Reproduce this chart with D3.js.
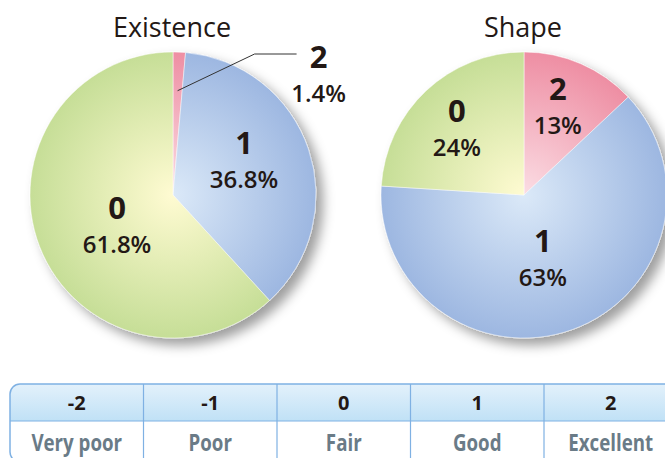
<!DOCTYPE html>
<html>
<head>
<meta charset="utf-8">
<script src="https://cdn.jsdelivr.net/npm/d3@7/dist/d3.min.js"></script>
<style>
  body { margin: 0; background: #fff; }
  svg { display: block; }
</style>
</head>
<body>
<svg id="chart" width="665" height="458"></svg>
<script>
// data
var categories = ["2", "1", "0"];
var existenceValues = [1.4, 36.8, 61.8];
var shapeValues = [13, 63, 24];
var pieTitles = ["Existence", "Shape"];
var scoreTicks = ["-2", "-1", "0", "1", "2"];
var scoreLabels = ["Very poor", "Poor", "Fair", "Good", "Excellent"];

var W = 665, H = 458;
var R = 143;
var cy = 195;
var ink = "#231815";
var font = "'Open Sans', 'Noto Sans', sans-serif";

var svg = d3.select("#chart");
var defs = svg.append("defs");

// soft drop shadow to the lower right
var shadow = defs.append("filter").attr("id", "shadow")
  .attr("x", "-20%").attr("y", "-20%").attr("width", "150%").attr("height", "150%");
shadow.append("feDropShadow")
  .attr("dx", 7).attr("dy", 7).attr("stdDeviation", 6)
  .attr("flood-color", "#000").attr("flood-opacity", 0.38);

// radial gradient per category, light in the middle
var sliceColors = {
  "2": ["#fbdde4", "#ee8ea3"],
  "1": ["#dbe9f8", "#9db7e1"],
  "0": ["#fffbd2", "#c6de97"]
};
categories.forEach(function(c) {
  var g = defs.append("radialGradient").attr("id", "grad" + c)
    .attr("gradientUnits", "userSpaceOnUse")
    .attr("cx", 0).attr("cy", 0).attr("r", R);
  g.append("stop").attr("offset", "0%").attr("stop-color", sliceColors[c][0]);
  g.append("stop").attr("offset", "100%").attr("stop-color", sliceColors[c][1]);
});

var pieX = d3.scaleOrdinal().domain(pieTitles).range([173, 524]);
var pie = d3.pie().sort(null).value(function(d) { return d; });
var arc = d3.arc().innerRadius(0).outerRadius(R);

// label radius and small hand nudges (like a designer would place them)
var labelRadius = { "Existence": 75, "Shape": 85 };
var nudge = {
  "Existence-0": [14, 14],
  "Shape-0": [-9, 6],
  "Shape-1": [-10, -6]
};

var pieData = [existenceValues, shapeValues];

pieTitles.forEach(function(title, i) {
  var values = pieData[i];
  var g = svg.append("g").attr("transform", "translate(" + pieX(title) + "," + cy + ")");

  g.append("text")
    .attr("x", -1).attr("y", 37 - cy)
    .attr("text-anchor", "middle")
    .style("font-family", font).style("font-size", "27px")
    .attr("fill", ink)
    .text(title);

  var slices = g.append("g").attr("filter", "url(#shadow)");
  var arcs = pie(values);
  slices.selectAll("path").data(arcs).enter().append("path")
    .attr("d", arc)
    .attr("fill", function(d, j) { return "url(#grad" + categories[j] + ")"; })
    .attr("stroke", "#ffffff").attr("stroke-width", 0.6).attr("stroke-opacity", 0.8);

  var labelArc = d3.arc().innerRadius(labelRadius[title]).outerRadius(labelRadius[title]);

  arcs.forEach(function(d, j) {
    var cat = categories[j];
    var pct = values[j] + "%";
    var lx, ly;
    if (values[j] < 5) {
      // small slice: leader line out to the right
      var inner = d3.arc().innerRadius(R * 0.73).outerRadius(R * 0.73).centroid(d);
      var elbow = [inner[0] + 77, -R + 2];
      var end = [elbow[0] + 42, elbow[1]];
      g.append("polyline")
        .attr("points", [inner, elbow, end].map(function(p) { return p.join(","); }).join(" "))
        .attr("fill", "none").attr("stroke", "#333").attr("stroke-width", 1);
      lx = end[0] + 22; ly = end[1] + 31;
    } else {
      var c = labelArc.centroid(d);
      var n = nudge[title + "-" + cat] || [0, 0];
      lx = c[0] + n[0]; ly = c[1] + n[1];
    }
    g.append("text")
      .attr("x", lx).attr("y", ly - 17)
      .attr("text-anchor", "middle")
      .style("font-family", font).style("font-weight", 700).style("font-size", "31px")
      .attr("fill", ink)
      .text(cat);
    g.append("text")
      .attr("x", lx).attr("y", ly + 17)
      .attr("text-anchor", "middle")
      .style("font-family", font).style("font-weight", 600).style("font-size", "24px")
      .attr("fill", ink)
      .text(pct);
  });
});

// score table at the bottom
var tLeft = 10, tTop = 384, tMid = 421, tBottom = 462, cw = 133.5, rad = 10;
var x = d3.scaleBand().domain(scoreTicks).range([tLeft, tLeft + cw * scoreTicks.length]);
var tRight = x.range()[1];

var hg = defs.append("linearGradient").attr("id", "headGrad")
  .attr("x1", 0).attr("y1", 0).attr("x2", 0).attr("y2", 1);
hg.append("stop").attr("offset", "0%").attr("stop-color", "#e3f1fb");
hg.append("stop").attr("offset", "100%").attr("stop-color", "#c0e1f6");

var table = svg.append("g");
var headPath = d3.path();
headPath.moveTo(tLeft, tMid);
headPath.lineTo(tLeft, tTop + rad);
headPath.arcTo(tLeft, tTop, tLeft + rad, tTop, rad);
headPath.lineTo(tRight, tTop);
headPath.lineTo(tRight, tMid);
headPath.closePath();
table.append("path").attr("d", headPath.toString()).attr("fill", "url(#headGrad)");

var outline = d3.path();
outline.moveTo(tRight, tBottom);
outline.lineTo(tLeft + rad, tBottom);
outline.arcTo(tLeft, tBottom, tLeft, tBottom - rad, rad);
outline.lineTo(tLeft, tTop + rad);
outline.arcTo(tLeft, tTop, tLeft + rad, tTop, rad);
outline.lineTo(tRight, tTop);
table.append("path").attr("d", outline.toString())
  .attr("fill", "none").attr("stroke", "#7fb1e3").attr("stroke-width", 1.5);

table.append("line")
  .attr("x1", tLeft).attr("x2", tRight).attr("y1", tMid).attr("y2", tMid)
  .attr("stroke", "#7fb1e3").attr("stroke-width", 1.2);

table.selectAll("line.div").data(scoreTicks.slice(1)).enter().append("line")
  .attr("class", "div")
  .attr("x1", function(d) { return x(d); }).attr("x2", function(d) { return x(d); })
  .attr("y1", tTop).attr("y2", tBottom)
  .attr("stroke", "#7fb1e3").attr("stroke-width", 1.2);

table.selectAll("text.tick").data(scoreTicks).enter().append("text")
  .attr("class", "tick")
  .attr("x", function(d) { return x(d) + x.bandwidth() / 2; })
  .attr("y", 410)
  .attr("text-anchor", "middle")
  .style("font-family", font).style("font-weight", 700).style("font-size", "20px")
  .attr("fill", ink)
  .text(function(d) { return d; });

table.selectAll("text.lbl").data(scoreLabels).enter().append("text")
  .attr("class", "lbl")
  .attr("transform", function(d, i) {
    return "translate(" + (x(scoreTicks[i]) + x.bandwidth() / 2) + ",450.5) scale(0.78,1)";
  })
  .attr("text-anchor", "middle")
  .style("font-family", font).style("font-weight", 700).style("font-size", "24px")
  .attr("fill", "#6a7b87")
  .text(function(d) { return d; });
</script>
</body>
</html>
